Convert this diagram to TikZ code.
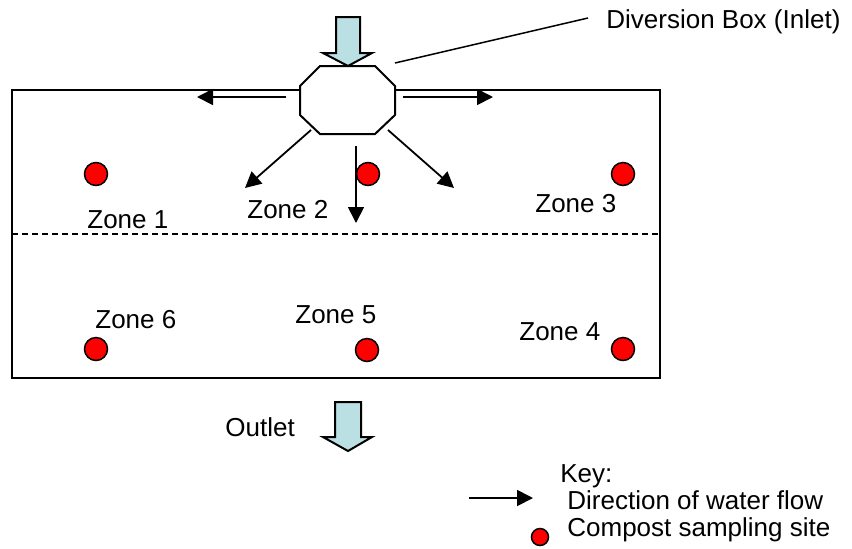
\documentclass[tikz,border=0pt]{standalone}
\usepackage{fontspec}
\setmainfont{Liberation Sans}
\usetikzlibrary{arrows.meta}
\definecolor{flowblue}{RGB}{187,224,227}
\definecolor{sitered}{RGB}{255,0,0}
\begin{document}
\begin{tikzpicture}[x=0.5pt,y=-0.5pt,
    lbl/.style={anchor=base west,inner sep=0pt,font=\fontsize{13}{15}\selectfont},
    site/.style={circle,draw,line width=0.75pt,fill=sitered,inner sep=0pt,minimum size=#1},
    site/.default=11.5pt,
    flow/.style={line width=0.9pt,-{Triangle[length=8pt,width=8pt]}},
    bigflow/.style={draw,line width=1pt,fill=flowblue}]
  \useasboundingbox (0,0) rectangle (852,548);
  % --- vasca di compostaggio ---
  \draw[line width=1pt] (12,90) rectangle (660,378);
  \draw[dashed,line width=0.6pt,dash pattern=on 3pt off 2pt] (12,234) -- (660,234);
  % --- scatola di diversione (ingresso) ---
  \filldraw[line width=1pt,fill=white]
    (320,66) -- (375,66) -- (395,86) -- (395,115) -- (375,134)
    -- (320,134) -- (300,115) -- (300,86) -- cycle;
  \path[bigflow] (336,17) -- (360,17) -- (360,53) -- (372,53) -- (348,66)
    -- (323,53) -- (336,53) -- cycle;
  \coordinate (lead) at (395,63);
  \node[lbl] (inlet) at (606,28) {Diversion Box (Inlet)};
  \draw[line width=0.75pt] (lead) -- (588,18);
  % --- direzioni del flusso ---
  \foreach \a/\b/\c/\d in {286/97/197/97, 403/97/493/97, 311/130/245/188,
      388/130/454/188, 356/146/356/223}{
    \coordinate (s) at (\a,\b);
    \coordinate (e) at (\c,\d);
    \draw[flow] (s) -- (e);
  }
  % --- punti di campionamento e zone ---
  \foreach \n/\x/\y in {1/96/174, 2/368/174, 3/623/174, 4/623/349, 5/367/350, 6/96/349}
    {\node[site] (site\n) at (\x,\y) {};}
  \foreach \n/\x/\y in {1/87/228, 2/247/218, 3/535/212, 4/519/340, 5/295/323, 6/95/328}
    {\node[lbl] (zone\n) at (\x,\y) {Zone \n};}
  % --- uscita ---
  \path[bigflow] (335,402) -- (361,402) -- (361,437) -- (372,437) -- (348,451)
    -- (323,437) -- (335,437) -- cycle;
  \node[lbl] (outlet) at (225,436) {Outlet};
  % --- legenda ---
  \node[lbl] (key) at (560,482) {Key:};
  \coordinate (keyA) at (469,498);
  \coordinate (keyB) at (533,498);
  \draw[flow] (keyA) -- (keyB);
  \node[lbl] (keyflow) at (567,509) {Direction of water flow};
  \node[site=8.5pt] (keysite) at (540,537) {};
  \node[lbl] (keycomp) at (567,536) {Compost sampling site};
\end{tikzpicture}
\end{document}
